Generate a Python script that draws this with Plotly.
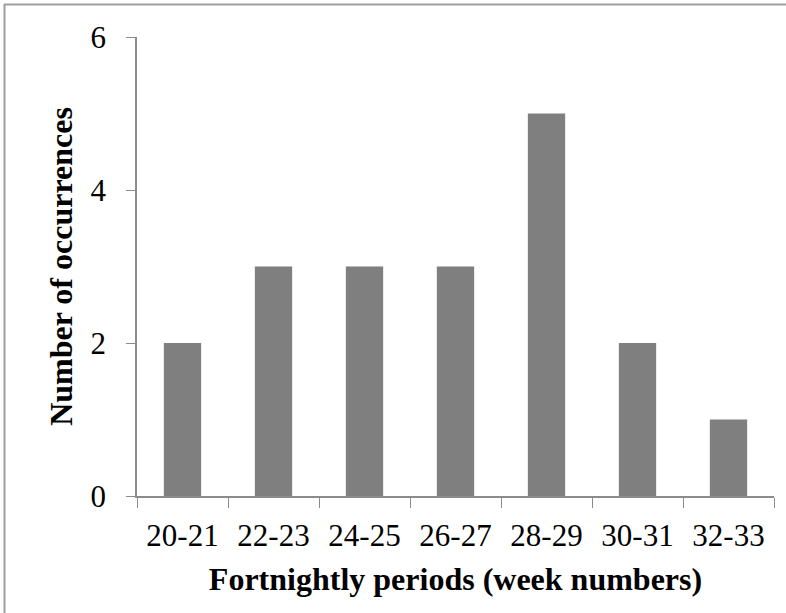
import plotly.graph_objects as go

categories = ["20-21", "22-23", "24-25", "26-27", "28-29", "30-31", "32-33"]
occurrences = [2, 3, 3, 3, 5, 2, 1]
y_ticks = [0, 2, 4, 6]

W, H = 786, 613
L, R, T, B = 137, 12, 37, 117
pw, ph = W - L - R, H - T - B

def px(x):
    return (x - L) / pw

def py(y):
    return (H - B - y) / ph

fig = go.Figure(go.Bar(
    x=categories, y=occurrences,
    marker=dict(color="#7f7f7f", line=dict(width=0)),
))

font = "Liberation Serif, Times New Roman, serif"
axcol = "#8c8c8c"
fig.update_layout(
    width=W, height=H,
    margin=dict(l=L, r=R, t=T, b=B, pad=0),
    plot_bgcolor="white", paper_bgcolor="white",
    bargap=0.59,
    showlegend=False,
    font=dict(family=font, color="#000000", size=31),
    xaxis=dict(
        type="category", showline=True, linecolor=axcol, linewidth=1.5,
        ticks="outside", tickson="boundaries", ticklen=10, tickcolor=axcol,
        showgrid=False, tickfont=dict(size=31, family=font),
        ticklabelstandoff=11,
        title=dict(text="<b>Fortnightly periods (week numbers)</b>",
                   font=dict(size=32, family=font), standoff=16),
    ),
    yaxis=dict(
        range=[0, 6], tickvals=y_ticks, showline=True, linecolor=axcol, linewidth=1.5,
        ticks="outside", ticklen=9, tickcolor=axcol, showgrid=False, zeroline=False,
        tickfont=dict(size=31, family=font),
        ticklabelstandoff=14,
        title=dict(text="<b>Number of occurrences</b>",
                   font=dict(size=32, family=font), standoff=8),
    ),
    shapes=[
        dict(type="line", xref="paper", yref="paper", x0=px(4), x1=px(786), y0=py(4.5), y1=py(4.5),
             line=dict(color="#a0a0a0", width=2)),
        dict(type="line", xref="paper", yref="paper", x0=px(4.5), x1=px(4.5), y0=py(4), y1=py(613),
             line=dict(color="#a0a0a0", width=2)),
    ],
)

fig.write_html("out.html", config={"displayModeBar": False},
               post_script="document.body.style.margin='0';document.body.style.overflow='hidden';")
